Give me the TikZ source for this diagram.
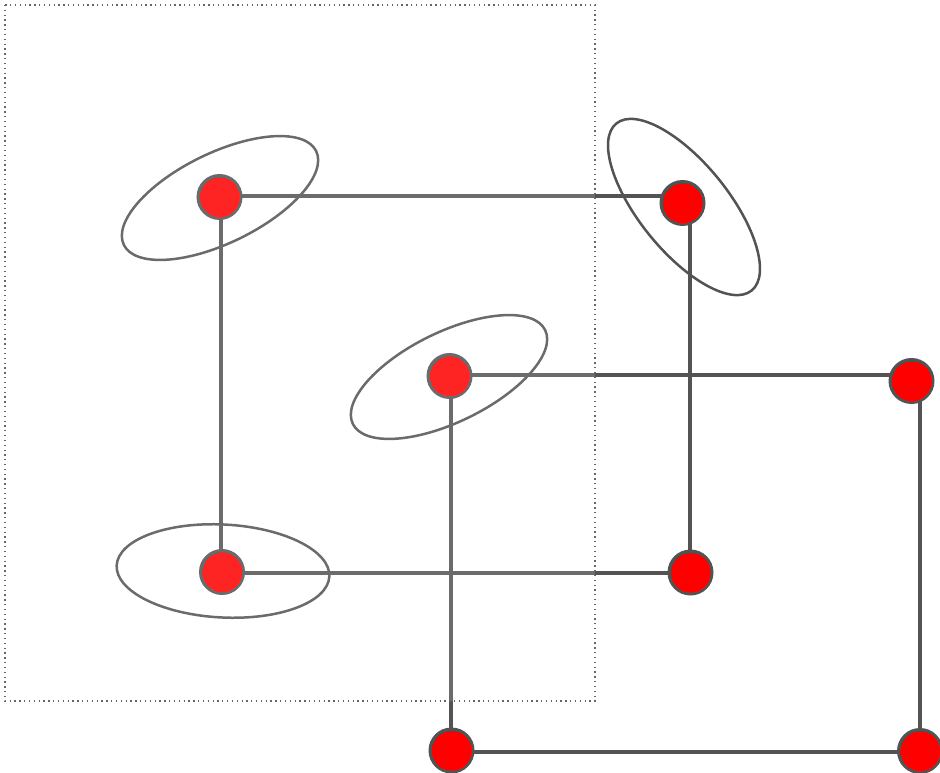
\documentclass[tikz,border=0pt]{standalone}
\usepackage{xcolor}
\definecolor{cubered}{HTML}{FF0000}
\definecolor{cubegray}{HTML}{535353}
\definecolor{framegray}{HTML}{666666}
\usetikzlibrary{calc}

\begin{document}
\begin{tikzpicture}[
  x=0.02cm, y=-0.02cm,
  vtx/.style={circle,draw=cubegray,fill=cubered,line width=0.06cm,
    minimum size=0.86cm,inner sep=0pt},
  link/.style={cubegray,line width=0.08cm},
  ring/.style={draw=cubegray,line width=0.05cm},
  frame/.style={draw=framegray,dotted,line width=0.75pt,
    fill=white,fill opacity=0.14}
]
  \useasboundingbox (0,0) rectangle (940,773);
  % Cube corners
  \coordinate (c-ftl) at (221,196);
  \coordinate (c-ftr) at (689.5,196);
  \coordinate (c-fbl) at (221,573);
  \coordinate (c-fbr) at (689.5,573);
  \coordinate (c-btl) at (451,375);
  \coordinate (c-btr) at (920,375);
  \coordinate (c-bbl) at (451,752);
  \coordinate (c-bbr) at (920,752);
  % Edges
  \draw[link] (c-ftl) -- (c-ftr);
  \draw[link] (c-ftl) -- (c-fbl);
  \draw[link] (c-ftr) -- (c-fbr);
  \draw[link] (c-fbl) -- (c-fbr);
  \draw[link] (c-btl) -- (c-btr);
  \draw[link] (c-btl) -- (c-bbl);
  \draw[link] (c-btr) -- (c-bbr);
  \draw[link] (c-bbl) -- (c-bbr);
  % Vertices
  \node[vtx] (ftl) at (219.5,197) {};
  \node[vtx] (ftr) at (682.5,203) {};
  \node[vtx] (fbl) at (222,572) {};
  \node[vtx] (fbr) at (690.5,572.5) {};
  \node[vtx] (btl) at (449.5,376) {};
  \node[vtx] (btr) at (911.5,381) {};
  \node[vtx] (bbl) at (451.5,750.5) {};
  \node[vtx] (bbr) at (920,751) {};
  % Ellipses
  \draw[ring,rotate around={26:(220,198)}] (220,198)
    ellipse [x radius=2.14cm,y radius=0.9cm];
  \draw[ring,rotate around={-51:(684,207)}] (684,207)
    ellipse [x radius=2.15cm,y radius=0.89cm];
  \draw[ring,rotate around={26:(449,377)}] (449,377)
    ellipse [x radius=2.14cm,y radius=0.9cm];
  \draw[ring,rotate around={-3:(223,571)}] (223,571)
    ellipse [x radius=2.13cm,y radius=0.93cm];
  % Dotted frame
  \draw[frame] (5,5) rectangle (595,701);
\end{tikzpicture}
\end{document}
